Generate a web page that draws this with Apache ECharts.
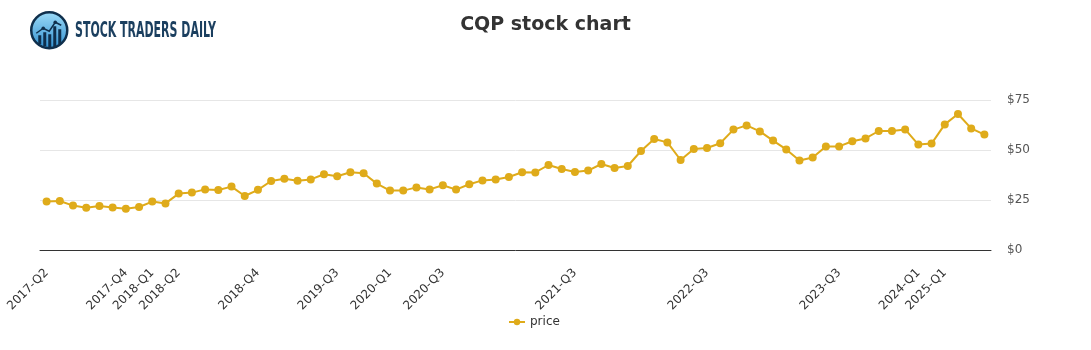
<!DOCTYPE html>
<html>
<head>
<meta charset="utf-8">
<style>
html,body{margin:0;padding:0;background:#fff;}
#chart{width:1091px;height:350px;}
</style>
<script src="https://cdn.jsdelivr.net/npm/echarts@6/dist/echarts.min.js"></script>
</head>
<body>
<div id="chart"></div>
<script>
// ---- data ----
const categories = [
  '2017-Q2','','','','','','2017-Q4','','2018-Q1','','2018-Q2','','','','','','2018-Q4','','','','','','2019-Q3','','','','2020-Q1','','','','2020-Q3','','','','','','','','','','2021-Q3','','','','','','','','','','2022-Q3','','','','','','','','','','2023-Q3','','','','','','2024-Q1','','2025-Q1','','',''
];
const price = [
  24.2, 24.5, 22.2, 21.1, 22.0, 21.3, 20.6, 21.5, 24.2, 23.3,
  28.2, 28.7, 30.3, 30.0, 31.7, 27.0, 30.1, 34.5, 35.6, 34.6,
  35.3, 37.9, 36.9, 38.9, 38.4, 33.2, 29.7, 29.7, 31.3, 30.3,
  32.4, 30.2, 32.9, 34.8, 35.2, 36.5, 38.9, 38.8, 42.5, 40.5,
  39.0, 39.7, 43.0, 41.0, 42.0, 49.5, 55.5, 53.8, 45.0, 50.5,
  51.0, 53.4, 60.2, 62.3, 59.3, 54.7, 50.3, 44.7, 46.2, 51.8,
  51.8, 54.4, 55.8, 59.5, 59.5, 60.3, 52.7, 53.2, 62.8, 68.0,
  60.8, 57.7
];
const yTicks = [0, 25, 50, 75];
const seriesName = 'price';
const titleText = 'CQP stock chart';
const brandText = 'STOCK TRADERS DAILY';

// ---- chart ----
const FONT = 'DejaVu Sans';
const GOLD = '#dfab1a';
const chart = echarts.init(document.getElementById('chart'), null, {renderer: 'canvas'});

// measure brand text to fit the logo width
const BRAND_FONT = '"DejaVu Sans Condensed", "DejaVu Sans"';
const cv = document.createElement('canvas').getContext('2d');
cv.font = 'bold 22px ' + BRAND_FONT;
const brandW = cv.measureText(brandText).width;
const brandScale = 141 / brandW;

const option = {
  backgroundColor: '#fff',
  animation: false,
  title: {
    text: titleText,
    left: 'center',
    top: 11,
    textStyle: {fontFamily: FONT, fontSize: 19, fontWeight: 'bold', color: '#333'}
  },
  legend: {
    data: [seriesName],
    left: 503,
    top: 311,
    itemWidth: 16,
    itemHeight: 8,
    itemGap: 10,
    textStyle: {fontFamily: FONT, fontSize: 12, color: '#333'}
  },
  grid: {left: 40, right: 100, top: 100, bottom: 100, containLabel: false},
  xAxis: {
    type: 'category',
    data: categories,
    boundaryGap: true,
    axisLine: {show: true, lineStyle: {color: '#333', width: 1}},
    axisTick: {show: false},
    axisLabel: {interval: 0, rotate: 45, margin: 21, fontFamily: FONT, fontSize: 12, color: '#333'},
    splitLine: {show: false}
  },
  yAxis: {
    type: 'value',
    position: 'right',
    min: yTicks[0],
    max: yTicks[yTicks.length - 1],
    interval: yTicks[1] - yTicks[0],
    axisLine: {show: false},
    axisTick: {show: false},
    axisLabel: {margin: 16, fontFamily: FONT, fontSize: 12, color: '#555', padding: [6, 0, 0, 0],
      formatter: v => '$' + v},
    splitLine: {show: true, lineStyle: {color: '#e6e6e6', width: 1}}
  },
  series: [{
    name: seriesName,
    type: 'line',
    data: price,
    symbol: 'circle',
    symbolSize: 8,
    showSymbol: true,
    lineStyle: {color: GOLD, width: 2},
    itemStyle: {color: GOLD}
  }],
  graphic: [
    {
      type: 'group',
      left: 30, top: 11,
      children: [
        {type: 'circle', shape: {cx: 19, cy: 19, r: 18},
          style: {fill: new echarts.graphic.LinearGradient(0, 0, 0, 1, [
            {offset: 0, color: '#9fdcf8'}, {offset: 1, color: '#2f8fd0'}]),
            stroke: '#0f2f4c', lineWidth: 2.5}},
        {type: 'rect', shape: {x: 8, y: 24, width: 3, height: 9}, style: {fill: '#0f2f4c'}},
        {type: 'rect', shape: {x: 13, y: 21, width: 3, height: 14}, style: {fill: '#0f2f4c'}},
        {type: 'rect', shape: {x: 18, y: 23, width: 3, height: 13}, style: {fill: '#0f2f4c'}},
        {type: 'rect', shape: {x: 23, y: 15, width: 3, height: 21}, style: {fill: '#0f2f4c'}},
        {type: 'rect', shape: {x: 28, y: 18, width: 3, height: 15}, style: {fill: '#0f2f4c'}},
        {type: 'polyline', shape: {points: [[6, 22], [13, 17], [19, 20], [25, 11], [31, 14]]},
          style: {stroke: '#0f2f4c', lineWidth: 1.5, fill: null}},
        {type: 'circle', shape: {cx: 13, cy: 17, r: 1.8}, style: {fill: '#0f2f4c'}},
        {type: 'circle', shape: {cx: 25, cy: 11, r: 1.8}, style: {fill: '#0f2f4c'}}
      ]
    },
    {
      type: 'text',
      left: 75, top: 20,
      scaleX: brandScale,
      style: {text: brandText, fontFamily: BRAND_FONT, fontSize: 22,
        fill: '#1b3f5f', fontWeight: 'bold'}
    }
  ]
};
chart.setOption(option);
</script>
</body>
</html>
